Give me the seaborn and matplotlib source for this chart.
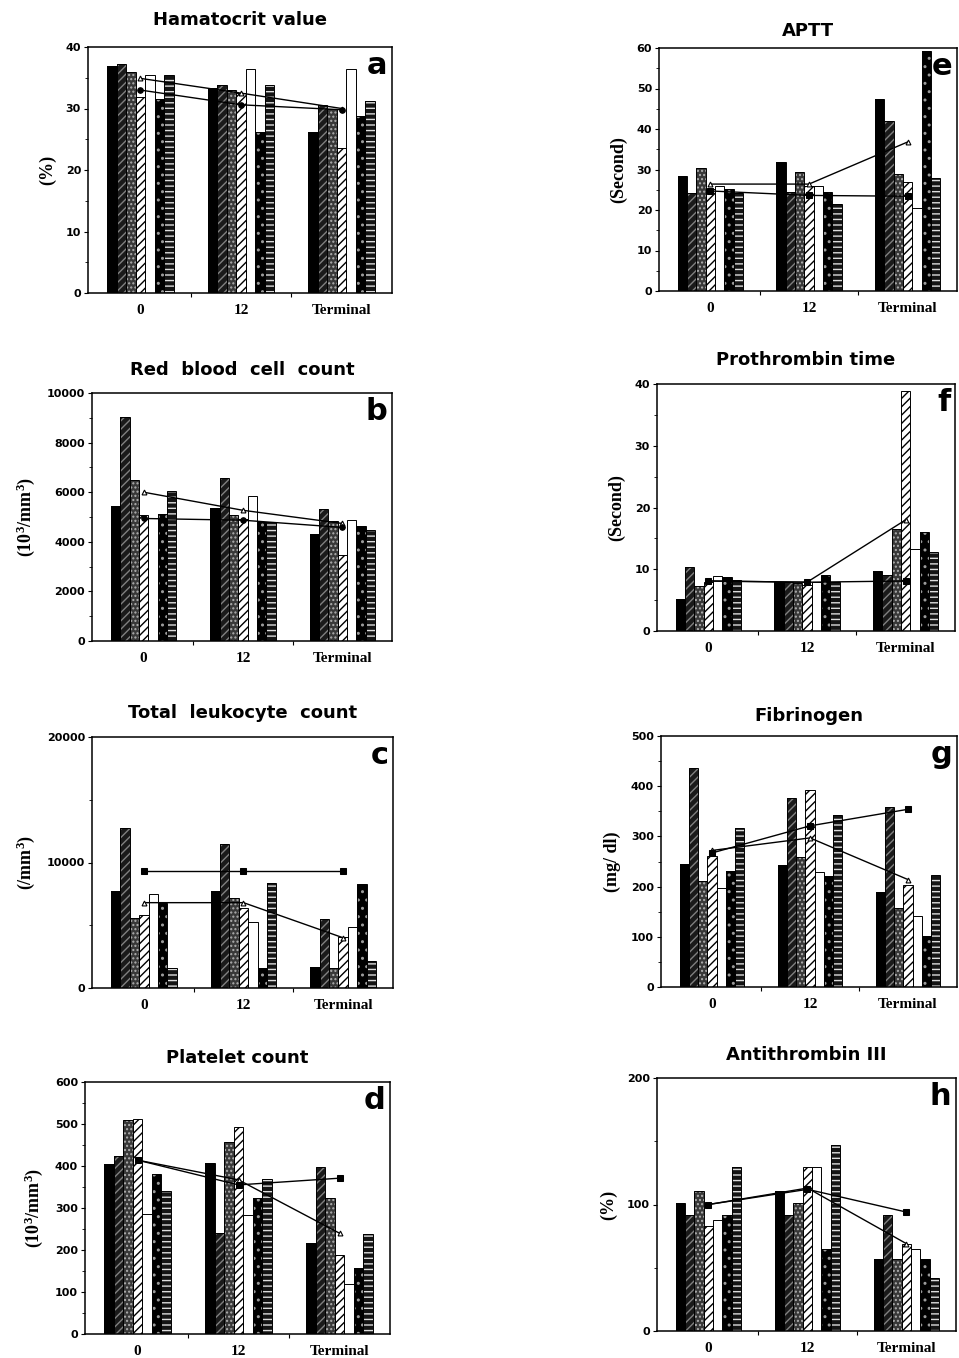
import numpy as np
import pandas as pd
import seaborn as sns
import matplotlib.pyplot as plt
from matplotlib.ticker import MultipleLocator, FixedLocator

sns.set_style("ticks")
plt.rcParams['font.family'] = ['DejaVu Sans', 'Liberation Sans']
plt.rcParams['hatch.linewidth'] = 1.0
for k in ['text.color', 'axes.labelcolor', 'xtick.color', 'ytick.color']:
    plt.rcParams[k] = 'black'
plt.rcParams['mathtext.fontset'] = 'custom'
plt.rcParams['mathtext.rm'] = 'Liberation Serif:bold'
plt.rcParams['mathtext.it'] = 'Liberation Serif:bold'
plt.rcParams['mathtext.bf'] = 'Liberation Serif:bold'

times = ["0", "12", "Terminal"]
series = ["1", "2", "3", "4", "5", "6", "7"]

# bar heights: one row per time point, one value per bar (7 bars)
hct = [[36.9, 37.3, 35.9, 31.8, 35.4, 31.5, 35.5],
       [33.4, 33.9, 33.0, 32.5, 36.4, 26.2, 33.9],
       [26.2, 30.5, 30.0, 23.6, 36.4, 28.7, 31.2]]
hct_fill = [33.0, 30.6, 29.8]
hct_open = [34.9, 32.5, 30.0]

rbc = [[5430, 9050, 6480, 5070, 4940, 5110, 6040],
       [5380, 6570, 5100, 4900, 5850, 4810, 4780],
       [4310, 5310, 4830, 3470, 4870, 4630, 4470]]
rbc_fill = [4940, 4870, 4580]
rbc_open = [6000, 5270, 4740]

wbc = [[7730, 12720, 5600, 5820, 7470, 6750, 1620],
       [7700, 11450, 7200, 6350, 5290, 1620, 8340],
       [1650, 5470, 1570, 4040, 4830, 8290, 2150]]
wbc_fill = [9350, 9350, 9350]
wbc_open = [6800, 6800, 4000]

plt_cnt = [[404, 424, 510, 512, 286, 380, 341],
           [407, 240, 458, 494, 283, 323, 369],
           [216, 397, 325, 187, 118, 156, 237]]
plt_fill = [414, 355, 371]
plt_open = [414, 367, 240]

aptt = [[28.5, 24.2, 30.3, 25.2, 26.0, 25.3, 24.2],
        [31.8, 24.5, 29.5, 26.0, 26.0, 24.5, 21.5],
        [47.3, 42.0, 29.0, 26.8, 20.5, 59.2, 28.0]]
aptt_fill = [24.7, 23.6, 23.4]
aptt_open = [26.4, 26.4, 36.8]

pt = [[5.2, 10.3, 7.3, 8.0, 8.9, 8.8, 8.3],
      [8.0, 8.0, 7.8, 7.5, 8.0, 9.0, 7.9],
      [9.7, 9.1, 16.5, 38.8, 13.3, 16.0, 12.8]]
pt_fill = [8.1, 7.9, 8.1]
pt_open = [8.1, 7.9, 18.0]

fib = [[245, 436, 211, 261, 197, 232, 316],
       [244, 377, 259, 392, 229, 222, 343],
       [189, 359, 157, 204, 141, 101, 224]]
fib_fill = [267, 321, 354]
fib_open = [272, 297, 214]

at3 = [[101, 92, 111, 83, 88, 92, 130],
       [111, 92, 101, 130, 130, 65, 147],
       [57, 92, 57, 69, 65, 57, 42]]
at3_fill = [100, 112, 94]
at3_open = [100, 113, 69]

# face colour, hatch, hatch colour of the seven bar kinds
bar_styles = [("black", None, "black"),
              ("#1a1a1a", "////", "#808080"),
              ("#383838", "....", "#b0b0b0"),
              ("white", "////", "black"),
              ("white", None, "black"),
              ("black", "..", "#9a9a9a"),
              ("#141414", "---", "#dcdcdc")]

rate_lbl = r"(10$^3$/mm$^3$)"
panels = [
    # title, letter, values, filled line, open line, ylim, major, minor, ylabel, box(l, r, t, b px), marker, title pad
    ("Hamatocrit value", "a", hct, hct_fill, hct_open, 40, 10, 5, "(%)", (88, 392, 47, 293), "o", 16),
    ("Red  blood  cell  count", "b", rbc, rbc_fill, rbc_open, 10000, 2000, 1000, rate_lbl, (92, 392, 393, 641), "o", 13),
    ("Total  leukocyte  count", "c", wbc, wbc_fill, wbc_open, 20000, 10000, 5000, r"(/mm$^3$)", (92, 393, 737, 988), "s", 14),
    ("Platelet count", "d", plt_cnt, plt_fill, plt_open, 600, 100, 50, rate_lbl, (85, 390, 1082, 1334), "s", 14),
    ("APTT", "e", aptt, aptt_fill, aptt_open, 60, 10, 5, "(Second)", (659, 957, 48, 291), "s", 9),
    ("Prothrombin time", "f", pt, pt_fill, pt_open, 40, 10, 5, "(Second)", (657, 955, 384, 631), "s", 14),
    ("Fibrinogen", "g", fib, fib_fill, fib_open, 500, 100, 50, "(mg/ dl)", (661, 957, 736, 987), "s", 11),
    ("Antithrombin III", "h", at3, at3_fill, at3_open, 200, 100, 50, "(%)", (657, 956, 1078, 1331), "s", 13),
]

W, H = 959, 1358
fig = plt.figure(figsize=(W / 100, H / 100), dpi=100)

for title, letter, vals, line_f, line_o, ymax, major, minor, ylab, box, mk, tpad in panels:
    l, r, t, b = box
    ax = fig.add_axes([l / W, 1 - b / H, (r - l) / W, (b - t) / H])

    df = pd.DataFrame([(times[i], series[j], vals[i][j])
                       for i in range(3) for j in range(7)],
                      columns=["time", "bar", "value"])

    sns.barplot(data=df, x="time", y="value", hue="bar", order=times,
                hue_order=series, width=0.66, errorbar=None,
                palette=["black"] * 7, legend=False, ax=ax)
    for cont, (fc, hatch, hc) in zip(ax.containers, bar_styles):
        for p in cont:
            p.set_facecolor(fc)
            p.set_hatch(hatch)
            p.set_edgecolor(hc)
            p.set_linewidth(0)
    # black outlines on top of the hatched fills
    sns.barplot(data=df, x="time", y="value", hue="bar", order=times,
                hue_order=series, width=0.66, errorbar=None, fill=False,
                palette=["black"] * 7, linewidth=0.7, legend=False, ax=ax)

    sns.pointplot(x=times, y=line_o, order=times, color="black", marker="^",
                  markersize=3.5, markerfacecolor="white", markeredgewidth=0.8,
                  linewidth=1.0, errorbar=None, ax=ax)
    sns.pointplot(x=times, y=line_f, order=times, color="black", marker=mk,
                  markersize=4, linewidth=1.0, errorbar=None, ax=ax)

    ax.set_xlim(-0.52, 2.5)
    ax.set_ylim(0, ymax)
    ax.yaxis.set_major_locator(MultipleLocator(major))
    ax.yaxis.set_minor_locator(MultipleLocator(minor))
    ax.xaxis.set_minor_locator(FixedLocator([0.5, 1.5]))
    ax.tick_params(axis="x", which="major", length=0, pad=8)
    ax.tick_params(axis="x", which="minor", length=3, width=0.8, direction="out")
    ax.tick_params(axis="y", which="major", length=3, width=0.8, pad=2, labelsize=8)
    ax.tick_params(axis="y", which="minor", length=2, width=0.6)
    for lab in ax.get_xticklabels():
        lab.set_family("Liberation Serif")
        lab.set_fontweight("bold")
        lab.set_fontsize(11)
    for lab in ax.get_yticklabels():
        lab.set_fontweight("bold")

    for s in ax.spines.values():
        s.set_visible(True)
        s.set_linewidth(1.1)
        s.set_color("black")

    ax.set_xlabel("")
    ax.set_ylabel(ylab, family="Liberation Serif", fontweight="bold",
                  fontsize=13, labelpad=7)
    ax.set_title(title, fontsize=13, fontweight="bold", pad=tpad)
    ax.text(0.985, 0.985, letter, transform=ax.transAxes, ha="right", va="top",
            fontsize=22, fontweight="bold")

fig.savefig("out.png", dpi=100)
